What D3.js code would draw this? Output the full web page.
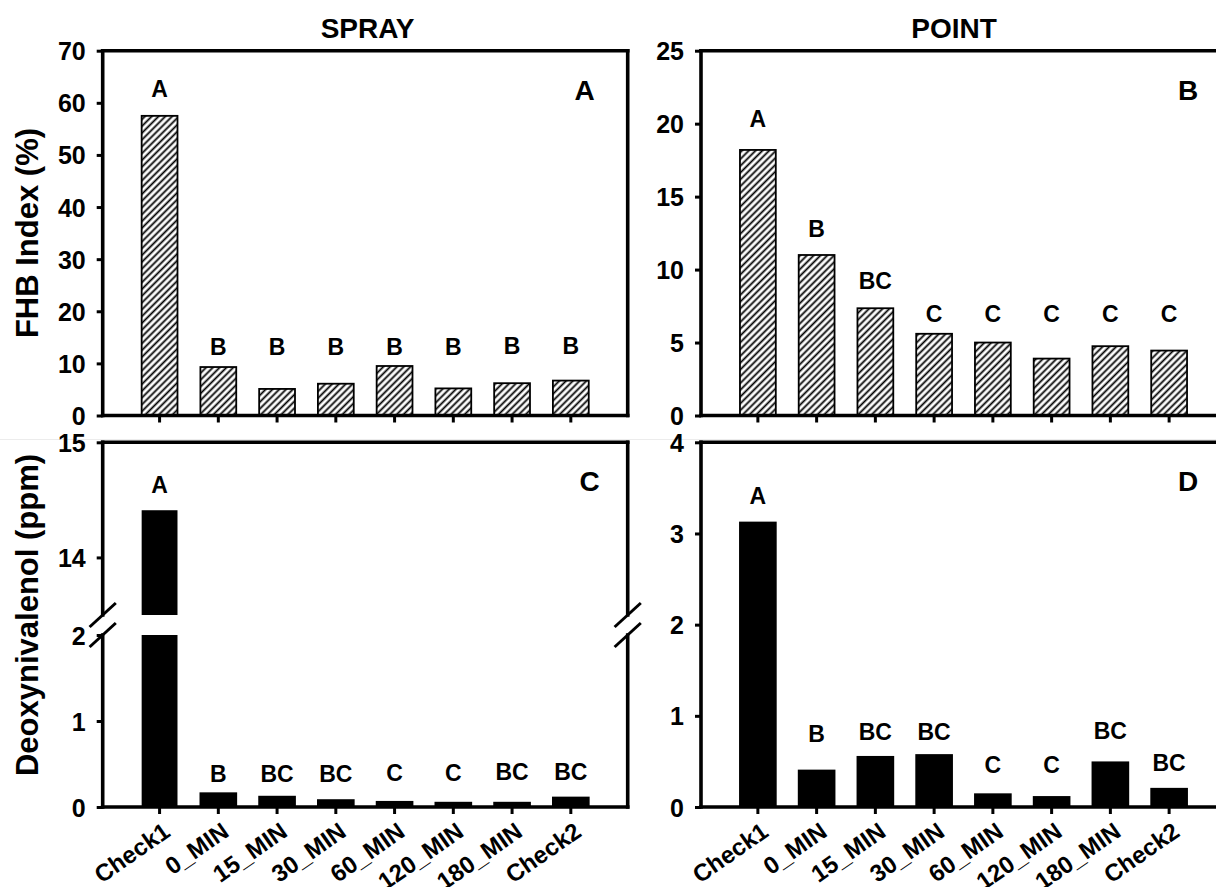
<!DOCTYPE html>
<html><head><meta charset="utf-8">
<script src="https://cdn.jsdelivr.net/npm/d3@7"></script>
<style>
body{margin:0;background:#fff}
text{font-family:"Liberation Sans",Arial,sans-serif;font-weight:bold;fill:#000}
</style>
</head><body>
<svg id="c" width="1216" height="887"></svg>
<script>
// ---------- data ----------
const categories = ["Check1","0_MIN","15_MIN","30_MIN","60_MIN","120_MIN","180_MIN","Check2"];
const fhbSpray = [57.5, 9.3, 5.1, 6.1, 9.5, 5.2, 6.2, 6.7];
const fhbPoint = [18.2, 11.0, 7.35, 5.6, 5.0, 3.9, 4.75, 4.45];
const donSpray = [14.41, 0.16, 0.12, 0.08, 0.06, 0.05, 0.05, 0.11];
const donPoint = [3.12, 0.40, 0.55, 0.57, 0.14, 0.11, 0.49, 0.20];
const lettersFhbSpray = ["A","B","B","B","B","B","B","B"];
const lettersFhbPoint = ["A","B","BC","C","C","C","C","C"];
const lettersDonSpray = ["A","B","BC","BC","C","C","BC","BC"];
const lettersDonPoint = ["A","B","BC","BC","C","C","BC","BC"];
// value level (data units) at which each letter sits
const levelFhbSpray = [61.2, 11.6, 11.6, 11.6, 11.6, 11.6, 11.8, 11.8];
const levelFhbPoint = [19.8, 12.2, 8.67, 6.4, 6.4, 6.4, 6.4, 6.4];
const levelDonSpray = [14.56, 0.29, 0.29, 0.29, 0.30, 0.30, 0.31, 0.31];
const levelDonPoint = [3.32, 0.715, 0.73, 0.73, 0.37, 0.37, 0.75, 0.39];
const ticksFhbSpray = [0,10,20,30,40,50,60,70];
const ticksFhbPoint = [0,5,10,15,20,25];
const ticksDonSprayLow = [0,1,2];
const ticksDonSprayHigh = [14,15];
const ticksDonPoint = [0,1,2,3,4];
const domainDonSprayLow = [0,2];
const domainDonSprayHigh = [13.5,15];
const panelTitles = ["SPRAY","POINT"];
const panelLetters = ["A","B","C","D"];
const yTitles = ["FHB Index (%)","Deoxynivalenol (ppm)"];

// ---------- layout ----------
const svg = d3.select("#c");
const W = 525;
const colX = [102.7, 701];
const rowY = [[50.7, 415.5], [442.3, 807]];
const AX = 3.6;

const defs = svg.append("defs");
const ps = 4.8;
const pat = defs.append("pattern").attr("id","hatch").attr("patternUnits","userSpaceOnUse")
  .attr("width",ps).attr("height",ps).attr("patternTransform","rotate(45)");
pat.append("rect").attr("width",ps).attr("height",ps).attr("fill","#fff");
pat.append("line").attr("x1",ps/2).attr("x2",ps/2).attr("y1",0).attr("y2",ps)
  .attr("stroke","#000").attr("stroke-width",1.8);

// faint seam between the two rows
svg.append("line").attr("x1",0).attr("x2",1216).attr("y1",439.5).attr("y2",439.5)
  .attr("stroke","#ececec").attr("stroke-width",1);

function line(g,x1,y1,x2,y2,w){
  g.append("line").attr("x1",x1).attr("y1",y1).attr("x2",x2).attr("y2",y2)
   .attr("stroke","#000").attr("stroke-width",w||AX).attr("stroke-linecap","square");
}

function styleAxis(a){
  a.select(".domain").remove();
  a.selectAll(".tick line").attr("stroke","#000").attr("stroke-width",3);
  a.selectAll(".tick text").style("font-size","25px").attr("fill","#000");
}

function panel(o){
  const g = svg.append("g");
  const x0 = o.x0, x1 = o.x0 + W, top = o.top, bot = o.bot;
  const x = d3.scaleBand().domain(categories).range([x0+27.5, x1-27.5])
    .paddingInner(0.39).paddingOuter(0.195);
  const ys = o.scales;
  const yOf = v => { for (const s of ys){ const d=s.scale.domain(); if (v>=d[0] && v<=d[1]+1e-9) return s.scale(v);} return ys[ys.length-1].scale(v); };

  // bars
  o.values.forEach((v,i)=>{
    const bx = x(categories[i]), bw = x.bandwidth();
    if (ys.length === 2 && v > ys[0].scale.domain()[1]) {
      const lo = ys[0].scale, hi = ys[1].scale;
      g.append("rect").attr("x",bx).attr("width",bw).attr("y",lo(lo.domain()[1])).attr("height",lo(0)-lo(lo.domain()[1]))
        .attr("fill","#000");
      g.append("rect").attr("x",bx).attr("width",bw).attr("y",hi(v)).attr("height",hi(hi.domain()[0])-hi(v))
        .attr("fill","#000");
    } else {
      const y0 = ys[0].scale(0), yv = yOf(v);
      g.append("rect").attr("x",bx).attr("width",bw).attr("y",yv).attr("height",y0-yv)
        .attr("fill",o.hatch?"url(#hatch)":"#000").attr("stroke","#000").attr("stroke-width",1.8);
    }
  });

  // letters
  o.letters.forEach((t,i)=>{
    g.append("text").attr("x",x(categories[i])+x.bandwidth()/2).attr("y",yOf(o.levels[i]))
      .attr("text-anchor","middle").style("font-size","23px").text(t);
  });

  // y axes
  ys.forEach(s=>{
    const a = g.append("g").attr("transform",`translate(${x0},0)`)
      .call(d3.axisLeft(s.scale).tickValues(s.ticks).tickSize(6).tickPadding(11).tickFormat(d3.format("d")));
    styleAxis(a);
    a.selectAll(".tick text").attr("dy","0.36em");
  });
  // x axis ticks
  const xa = g.append("g").attr("transform",`translate(0,${bot})`)
    .call(d3.axisBottom(x).tickSize(7).tickFormat(""));
  styleAxis(xa);
  if (o.xlabels){
    categories.forEach(c=>{
      const cx = x(c)+x.bandwidth()/2 + 12, cy = bot + 28;
      g.append("text").attr("transform",`translate(${cx},${cy}) rotate(-35)`)
        .attr("text-anchor","end").style("font-size","24px").text(c);
    });
  }

  // frame
  line(g,x0,top,x1,top);
  line(g,x0,bot,x1,bot);
  if (ys.length === 2){
    const lo = ys[0].scale, hi = ys[1].scale;
    const gLo = lo(lo.domain()[1]), gHi = hi(hi.domain()[0]);
    [x0,x1].forEach(xx=>{
      line(g,xx,top,xx,gHi);
      line(g,xx,gLo,xx,bot);
      [gHi,gLo].forEach(yy=> line(g,xx-12,yy+11,xx+12,yy-11,3));
    });
  } else {
    line(g,x0,top,x0,bot);
    line(g,x1,top,x1,bot);
  }
  // panel letter
  g.append("text").attr("x",x0+o.letterDx).attr("y",top+49).attr("text-anchor","middle")
    .style("font-size","28px").text(o.letter);
}

const lin = (d,r)=>d3.scaleLinear().domain(d).range(r);

panel({x0:colX[0], top:rowY[0][0], bot:rowY[0][1], values:fhbSpray, letters:lettersFhbSpray, levels:levelFhbSpray,
  scales:[{scale:lin([0,70],[rowY[0][1],rowY[0][0]]), ticks:ticksFhbSpray}], hatch:true, letter:panelLetters[0], letterDx:482});
panel({x0:colX[1], top:rowY[0][0], bot:rowY[0][1], values:fhbPoint, letters:lettersFhbPoint, levels:levelFhbPoint,
  scales:[{scale:lin([0,25],[rowY[0][1],rowY[0][0]]), ticks:ticksFhbPoint}], hatch:true, letter:panelLetters[1], letterDx:487});
panel({x0:colX[0], top:rowY[1][0], bot:rowY[1][1], values:donSpray, letters:lettersDonSpray, levels:levelDonSpray,
  scales:[{scale:lin(domainDonSprayLow,[rowY[1][1],635]), ticks:ticksDonSprayLow},
          {scale:lin(domainDonSprayHigh,[615,rowY[1][0]]), ticks:ticksDonSprayHigh}],
  hatch:false, xlabels:true, letter:panelLetters[2], letterDx:487});
panel({x0:colX[1], top:rowY[1][0], bot:rowY[1][1], values:donPoint, letters:lettersDonPoint, levels:levelDonPoint,
  scales:[{scale:lin([0,4],[rowY[1][1],rowY[1][0]]), ticks:ticksDonPoint}],
  hatch:false, xlabels:true, letter:panelLetters[3], letterDx:487});

// titles
svg.append("text").attr("x",367.6).attr("y",38).attr("text-anchor","middle").style("font-size","28px").text(panelTitles[0]);
svg.append("text").attr("x",954).attr("y",38).attr("text-anchor","middle").style("font-size","28px").text(panelTitles[1]);
svg.append("text").attr("transform","translate(38,233) rotate(-90)").attr("text-anchor","middle").style("font-size","31px").text(yTitles[0]);
svg.append("text").attr("transform","translate(38,615) rotate(-90)").attr("text-anchor","middle").style("font-size","31px").text(yTitles[1]);
</script>
</body></html>
